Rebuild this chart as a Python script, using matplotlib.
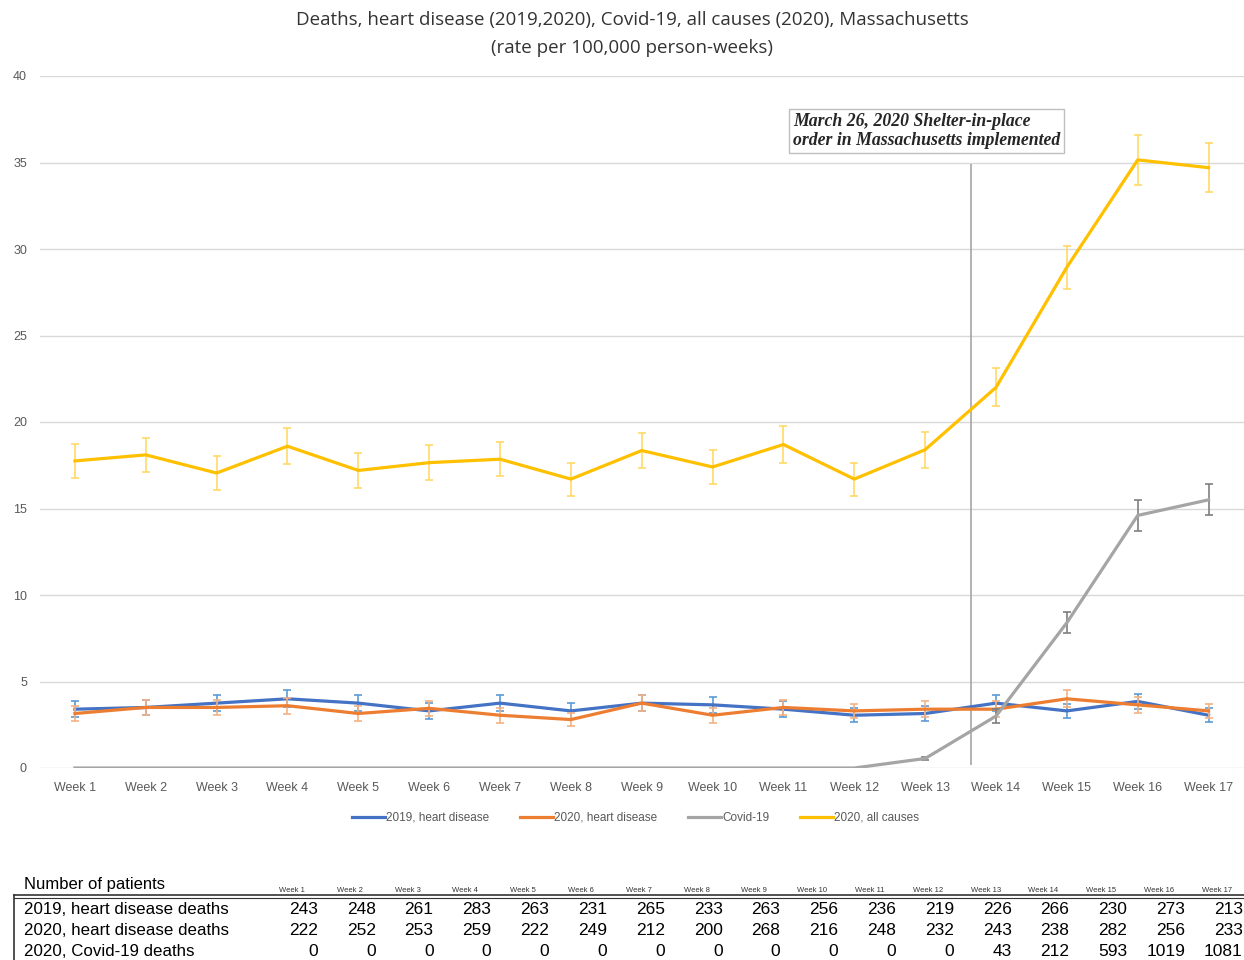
import matplotlib
matplotlib.use('Agg')
from matplotlib import pyplot as plt
from matplotlib.lines import Line2D
import numpy as np

plt.rcParams['font.family'] = ['Liberation Sans', 'DejaVu Sans']

weeks = list(range(1, 18))
week_labels = ['Week {}'.format(i) for i in weeks]

heart_2019 = [3.4, 3.5, 3.75, 4.0, 3.75, 3.3, 3.75, 3.3, 3.75, 3.65, 3.4, 3.05, 3.15, 3.75, 3.3, 3.85, 3.05]
heart_2019_err = [0.45, 0.45, 0.45, 0.5, 0.45, 0.45, 0.45, 0.45, 0.45, 0.45, 0.45, 0.4, 0.42, 0.45, 0.42, 0.45, 0.4]
heart_2020 = [3.15, 3.5, 3.5, 3.6, 3.15, 3.45, 3.05, 2.8, 3.75, 3.05, 3.5, 3.3, 3.4, 3.4, 4.0, 3.65, 3.3]
heart_2020_err = [0.42, 0.45, 0.45, 0.45, 0.42, 0.45, 0.42, 0.4, 0.45, 0.42, 0.45, 0.42, 0.45, 0.45, 0.5, 0.45, 0.42]
covid = [0, 0, 0, 0, 0, 0, 0, 0, 0, 0, 0, 0, 0.55, 3.0, 8.4, 14.6, 15.5]
covid_err = [0, 0, 0, 0, 0, 0, 0, 0, 0, 0, 0, 0, 0.1, 0.4, 0.6, 0.9, 0.9]
all_2020 = [17.75, 18.1, 17.05, 18.6, 17.2, 17.65, 17.85, 16.7, 18.35, 17.4, 18.7, 16.7, 18.4, 22.0, 28.95, 35.15, 34.7]
all_2020_err = [1.0, 1.0, 1.0, 1.05, 1.0, 1.0, 1.0, 0.95, 1.0, 1.0, 1.05, 0.95, 1.05, 1.1, 1.25, 1.45, 1.4]

shelter_x = 13.65

row_names = ['2019, heart disease deaths', '2020, heart disease deaths', '2020, Covid-19 deaths']
n_2019 = [243, 248, 261, 283, 263, 231, 265, 233, 263, 256, 236, 219, 226, 266, 230, 273, 213]
n_2020 = [222, 252, 253, 259, 222, 249, 212, 200, 268, 216, 248, 232, 243, 238, 282, 256, 233]
n_covid = [0, 0, 0, 0, 0, 0, 0, 0, 0, 0, 0, 0, 43, 212, 593, 1019, 1081]

W, H = 1244, 960
fig = plt.figure(figsize=(12.44, 9.6), dpi=100)
ax = fig.add_axes([39.5 / W, 1 - 768 / H, 1 - 39.5 / W, (768 - 76) / H])

series = [
    (heart_2019, heart_2019_err, '#4472C4', '#5B9BD5', '2019, heart disease'),
    (heart_2020, heart_2020_err, '#ED7D31', '#F4B183', '2020, heart disease'),
    (covid, covid_err, '#A5A5A5', '#7F7F7F', 'Covid-19'),
    (all_2020, all_2020_err, '#FFC000', '#FFD966', '2020, all causes'),
]
handles = []
for vals, err, col, ecol, lab in series:
    x = np.array(weeks)
    v = np.array(vals)
    e = np.array(err)
    m = e > 0
    ax.errorbar(x[m], v[m], yerr=e[m], fmt='none', ecolor=ecol,
                elinewidth=1.2, capsize=3, capthick=1.2)
    ax.plot(weeks, vals, color=col, lw=2.3)
    handles.append(Line2D([], [], color=col, lw=2.3, label=lab))

ax.vlines(shelter_x, 0.2, 34.9, color='#A6A6A6', lw=1.2, zorder=1)

ax.set_xlim(0.5, 17.5)
ax.set_ylim(0, 40)
ax.set_yticks(range(0, 41, 5))
ax.set_xticks(weeks)
ax.set_xticklabels(week_labels)
ax.tick_params(axis='both', length=0, labelsize=9, labelcolor='#595959')
ax.tick_params(axis='y', pad=9)
ax.tick_params(axis='x', pad=10)
ax.grid(axis='y', color='#D9D9D9', lw=1)
ax.set_axisbelow(True)
for s in ax.spines.values():
    s.set_visible(False)

ax.legend(handles=handles, loc='upper center', bbox_to_anchor=(0.495, -0.048), ncol=4,
          frameon=False, fontsize=8.5, handlelength=2.8, handletextpad=0.1,
          columnspacing=2.6, labelcolor='#595959')

fig.text(632 / W, 1 - 11 / H, 'Deaths, heart disease (2019,2020), Covid-19, all causes (2020), Massachusetts\n(rate per 100,000 person-weeks)',
         ha='center', va='top', fontsize=13.5, color='#333333', family=['Open Sans', 'DejaVu Sans'], linespacing=1.7)

fig.text(793 / W, 1 - 113 / H, 'March 26, 2020 Shelter-in-place\norder in Massachusetts implemented',
         ha='left', va='top', fontsize=12.8, color='#262626', family=['Liberation Serif'],
         style='italic', weight='bold', linespacing=1.15,
         bbox=dict(boxstyle='square,pad=0.22', fc='white', ec='#BFBFBF', lw=1))

# table of patient counts
fig.text(24 / W, 1 - 885 / H, 'Number of patients', ha='left', va='center', fontsize=12, color='black')
col_x0, col_dx = 292, 57.8
for i, lab in enumerate(['Week {}'.format(w) for w in weeks]):
    fig.text((col_x0 + i * col_dx) / W, 1 - 890 / H, lab, ha='center', va='center', fontsize=5.5, color='#333333')
fig.add_artist(Line2D([14 / W, 1], [1 - 895 / H] * 2, color='#333333', lw=1.2))
fig.add_artist(Line2D([14 / W, 1], [1 - 897.5 / H] * 2, color='#333333', lw=0.8))
fig.add_artist(Line2D([14 / W, 14 / W], [1 - 895 / H, 0], color='#333333', lw=1.2))
for r, (name, counts) in enumerate(zip(row_names, [n_2019, n_2020, n_covid])):
    yy = 1 - (909 + r * 21.5) / H
    fig.text(24 / W, yy, name, ha='left', va='center', fontsize=12.2, color='black')
    for i, c in enumerate(counts):
        fig.text((col_x0 + 26 + i * col_dx) / W, yy, str(c), ha='right', va='center', fontsize=12.5, color='black')

fig.savefig('out.png', dpi=100)
